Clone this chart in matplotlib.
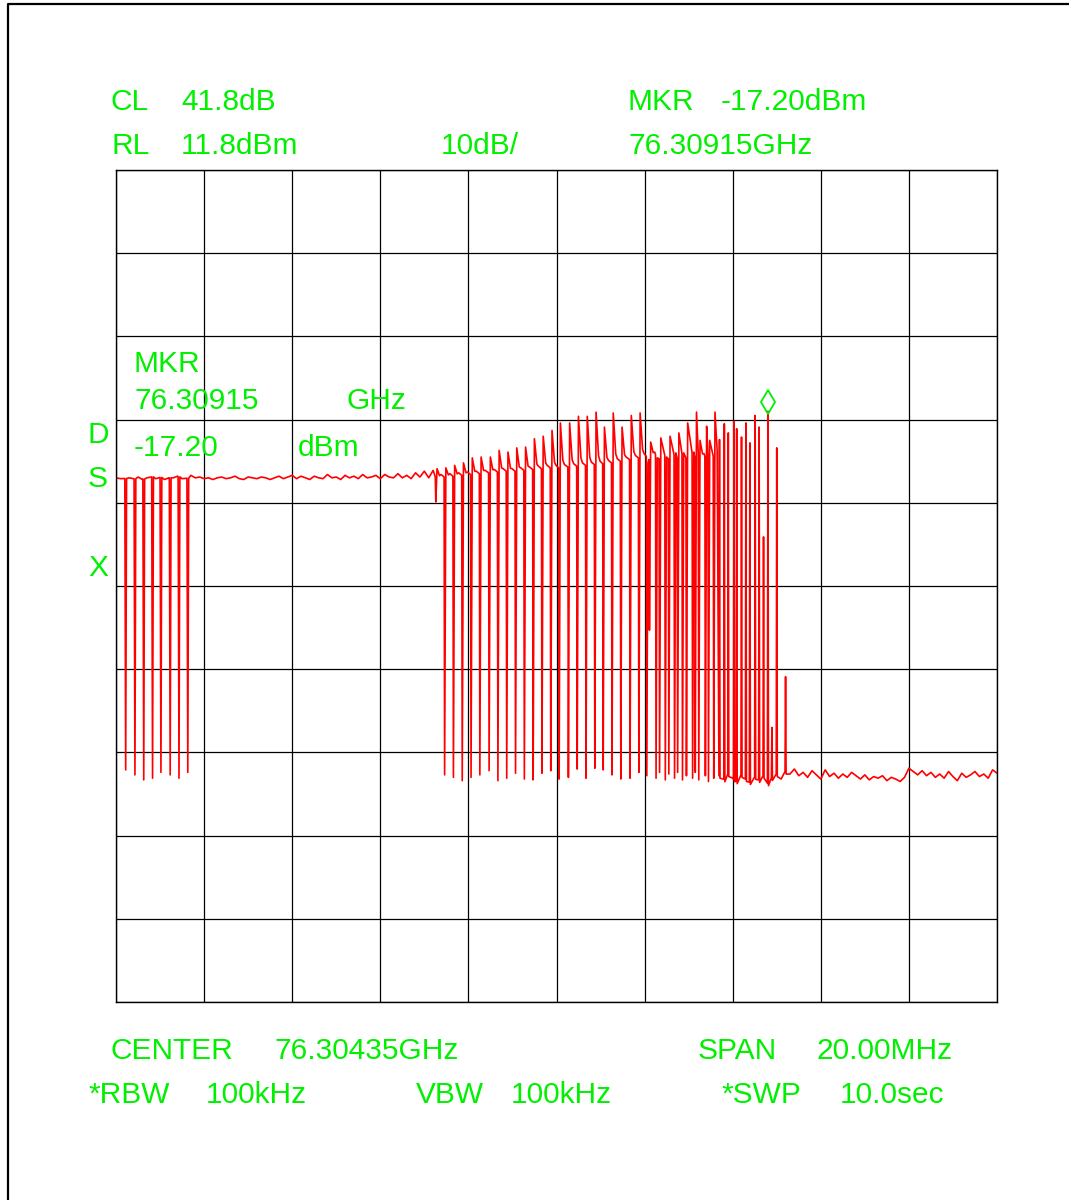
"""
Spectrum analyzer screen dump: chirp sweep around 76.304 GHz.
"""
import numpy as np
import matplotlib
matplotlib.use("Agg")
import matplotlib.pyplot as plt
import matplotlib.transforms as mtransforms
from matplotlib.lines import Line2D

# Analyzer settings (as printed on the screen)
center_ghz = 76.30435
span_mhz = 20.0
ref_level_dbm = 11.8
db_per_div = 10.0
marker_ghz = 76.30915
marker_dbm = -17.20

# Flat level left of the chirp, one sample every 0.1 MHz from the start frequency
plateau_dbm = [
    -25.2, -25.3, -25.3, -25.2, -25.4, -25.1, -25.4, -25.2, -25.0, -25.3,
    -25.1, -25.4, -25.2, -25.2, -25.0, -25.3, -25.4, -24.9, -25.2, -25.1,
    -25.3, -25.2, -25.4, -25.2, -25.1, -25.3, -25.2, -25.0, -25.3, -25.4,
    -25.1, -25.2, -25.3, -25.1, -25.2, -25.4, -25.2, -25.0, -25.3, -25.1,
    -24.9, -25.3, -25.0, -25.2, -25.4, -25.0, -25.2, -25.3, -24.8, -25.2,
    -25.1, -25.4, -24.9, -25.2, -25.0, -25.3, -24.8, -25.2, -25.1, -24.9,
    -25.3, -24.8, -25.1, -25.2, -24.7, -25.2, -24.9, -25.3, -24.6, -25.1,
    -24.4, -25.2, -24.3,
]

# Deep notches at the left edge (MHz above start frequency)
notch_mhz = [0.22, 0.43, 0.63, 0.83, 1.02, 1.23, 1.43, 1.63]
notch_dbm = [-60.3, -60.9, -61.5, -61.3, -60.6, -60.9, -61.3, -60.6]

# Chirp section: notch position, notch bottom, peak after notch, level before next notch
chirp_mhz = [
    7.26, 7.46, 7.66, 7.86, 8.06, 8.26, 8.47, 8.67, 8.87, 9.07,
    9.27, 9.47, 9.67, 9.87, 10.06, 10.27, 10.47, 10.67, 10.87, 11.06,
    11.26, 11.46, 11.67, 11.87,
    12.05, 12.11, 12.26, 12.34, 12.47, 12.55, 12.68, 12.75, 12.86, 12.95,
    13.09, 13.15, 13.23, 13.38, 13.45, 13.57,
]
chirp_low_dbm = [
    -28.1, -60.9, -61.2, -61.6, -61.2, -60.9, -60.4, -61.6, -61.3, -60.7,
    -61.4, -61.5, -60.7, -60.4, -61.4, -61.2, -60.2, -61.3, -60.1, -60.3,
    -60.9, -61.4, -61.3, -60.6,
    -61.0, -43.5, -61.3, -60.6, -61.5, -60.8, -61.3, -60.6, -61.5, -61.0,
    -61.3, -60.6, -61.5, -61.0, -61.7, -61.3,
]
chirp_peak_dbm = [
    -24.1, -24.0, -23.7, -23.4, -22.8, -22.7, -22.7, -21.9, -22.1, -21.6,
    -21.5, -20.5, -20.2, -19.5, -18.6, -18.6, -17.8, -17.8, -17.3, -19.1,
    -17.4, -19.1, -17.7, -17.4,
    -23.4, -20.9, -22.8, -20.4, -22.7, -20.2, -22.2, -19.8, -22.2, -18.6,
    -22.1, -17.3, -20.7, -19.0, -20.7, -17.3,
]
chirp_tail_dbm = [
    -25.1, -25.0, -24.9, -24.8, -24.7, -24.6, -24.5, -24.4, -24.4, -24.3,
    -24.2, -24.1, -24.0, -24.0, -23.9, -23.8, -23.7, -23.6, -23.5, -23.4,
    -23.2, -23.0, -22.8, -22.6,
    -23.0, -22.4, -22.9, -22.5, -22.9, -22.4, -22.8, -22.3, -22.8, -22.2,
    -22.7, -22.2, -22.6, -22.4, -22.6, -22.0,
]

# Spikes standing on the noise floor at the end of the chirp
spike_mhz = [13.70, 13.81, 13.90, 14.03, 14.09, 14.20, 14.30, 14.39,
             14.51, 14.60, 14.70, 14.80, 14.89, 15.00, 15.20]
spike_dbm = [-20.6, -18.7, -19.8, -18.4, -19.3, -20.3, -18.6, -21.0,
             -17.7, -19.1, -32.3, -17.2, -55.2, -21.6, -49.1]

# Noise floor, one sample every 0.1 MHz from 13.7 MHz to the stop frequency
floor_start_mhz = 13.7
floor_dbm = [
    -61.0, -61.5, -60.8, -61.3, -61.7, -60.9, -61.4, -61.8, -61.1, -61.5,
    -61.0, -61.9, -61.2, -60.8, -61.4, -60.5,
    -60.8, -60.2, -61.0, -60.6, -61.2, -60.4, -60.9, -61.4, -60.3, -61.1,
    -60.7, -61.3, -60.8, -61.2, -60.6, -61.0, -61.4, -60.9, -61.5, -61.1,
    -61.3, -61.0, -61.6, -61.2, -61.4, -61.7, -61.2, -60.1, -60.5, -60.9,
    -60.4, -61.0, -60.6, -61.2, -60.8, -61.3, -60.5, -61.1, -61.6, -60.7,
    -61.2, -60.9, -60.5, -61.1, -60.8, -61.3, -60.3, -60.7,
]

# Screen annotations: (text, x px, baseline px)
header_texts = [
    ("CL", 111, 110), ("41.8dB", 181, 110),
    ("MKR", 628, 110), ("-17.20dBm", 721, 110),
    ("RL", 111, 154), ("11.8dBm", 181, 154),
    ("10dB/", 441, 154), ("76.30915GHz", 628, 154),
]
inner_texts = [
    ("MKR", 134, 372),
    ("76.30915", 134, 409), ("GHz", 346, 409),
    ("-17.20", 134, 456), ("dBm", 298, 456),
]
side_texts = [("D", 88, 443), ("S", 88, 487), ("X", 88, 576)]
footer_texts = [
    ("CENTER", 111, 1059), ("76.30435GHz", 275, 1059),
    ("SPAN", 698, 1059), ("20.00MHz", 816, 1059),
    ("*RBW", 88, 1103), ("100kHz", 206, 1103),
    ("VBW", 416, 1103), ("100kHz", 511, 1103),
    ("*SWP", 721, 1103), ("10.0sec", 840, 1103),
]

W, H = 1069, 1200
GREEN = "#00f000"
FONT = ["Liberation Sans", "DejaVu Sans"]


def build_trace():
    """Stitch the trace together from the pieces read off the screen."""
    # plateau with the narrow notches
    plat_f = np.round(np.arange(len(plateau_dbm)) * 0.1, 3)
    pts = [(x, y) for x, y in zip(plat_f, plateau_dbm)
           if min(abs(x - n) for n in notch_mhz) > 0.03]
    for n, lo in zip(notch_mhz, notch_dbm):
        base = float(np.interp(n, plat_f, plateau_dbm))
        pts += [(n - 0.02, base), (n, lo), (n + 0.02, base)]
    pts.sort()

    # chirp: notch, sharp peak, decay to the tail level
    for i, n in enumerate(chirp_mhz):
        nxt = chirp_mhz[i + 1] if i + 1 < len(chirp_mhz) else n + 0.09
        peak, tail = chirp_peak_dbm[i], chirp_tail_dbm[i]
        if i == 0:
            pts.append((n - 0.012, -25.1))
        pts += [(n, chirp_low_dbm[i]), (n + 0.028, peak)]
        if nxt - n > 0.15:
            pts += [(n + 0.085, tail + 0.15 * (peak - tail)), (n + 0.12, tail + 0.3)]
        pts.append((nxt - 0.012, tail))

    # noise floor with spikes
    fl_f = floor_start_mhz + np.arange(len(floor_dbm)) * 0.1
    end = [(x, y) for x, y in zip(fl_f, floor_dbm)
           if min(abs(x - s) for s in spike_mhz) > 0.025]
    for s, top in zip(spike_mhz, spike_dbm):
        lo = float(np.interp(s, fl_f, floor_dbm))
        end += [(s - 0.012, lo), (s, top), (s + 0.012, lo - 0.3)]
    end.sort()
    pts += end

    f, p = zip(*pts)
    return np.array(f), np.array(p)


def fig_text(fig, items, **kw):
    for txt, x, y in items:
        fig.text(x / W, 1 - y / H, txt, color=GREEN, fontsize=21.5,
                 family=FONT, ha="left", va="baseline", **kw)


def main():
    fig = plt.figure(figsize=(W / 100, H / 100), dpi=100)
    fig.patch.set_facecolor("white")

    # graticule box
    ax = fig.add_axes([116 / W, 1 - 1002 / H, 881 / W, 832 / H])
    bottom_dbm = ref_level_dbm - 10 * db_per_div
    ax.set_xlim(0, span_mhz)
    ax.set_ylim(bottom_dbm, ref_level_dbm)
    ax.set_xticks(np.linspace(0, span_mhz, 11))
    ax.set_yticks(np.linspace(bottom_dbm, ref_level_dbm, 11))
    ax.tick_params(length=0, labelbottom=False, labelleft=False)
    ax.grid(True, color="black", lw=0.9)
    for sp in ax.spines.values():
        sp.set_color("black")
        sp.set_linewidth(1.0)

    f, p = build_trace()
    ax.plot(f, p, color="red", lw=1.2)

    # marker diamond just above the marked point
    mkr_mhz = (marker_ghz - (center_ghz - span_mhz / 2000)) * 1000
    shifted = mtransforms.offset_copy(ax.transData, fig=fig, x=0, y=9, units="dots")
    ax.plot([mkr_mhz], [marker_dbm], marker="d", ms=12, mfc="none",
            mec=GREEN, mew=1.3, transform=shifted, clip_on=False)

    fig_text(fig, header_texts)
    fig_text(fig, inner_texts)
    fig_text(fig, side_texts)
    fig_text(fig, footer_texts)

    # page border (top and left)
    fig.add_artist(Line2D([8 / W, 8 / W, 1.0], [0.0, 1 - 4 / H, 1 - 4 / H],
                          color="black", lw=1.6, transform=fig.transFigure))

    fig.savefig("out.png", dpi=100, facecolor="white")
    plt.close(fig)


if __name__ == "__main__":
    main()
